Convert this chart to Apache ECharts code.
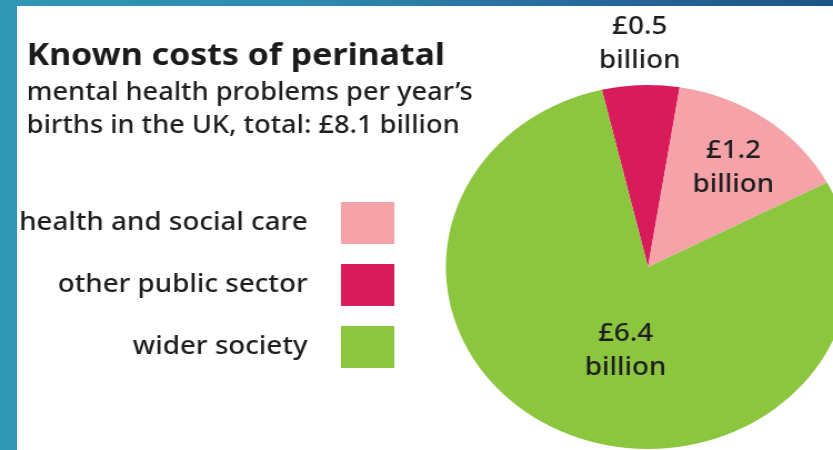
<!DOCTYPE html>
<html><head><meta charset="utf-8">
<script src="https://cdn.jsdelivr.net/npm/echarts@6/dist/echarts.min.js"></script>
<style>
html,body{margin:0;padding:0;width:833px;height:450px;overflow:hidden;}
body{position:relative;background:linear-gradient(90deg,#3097b4 0%,#2d8bb0 35%,#27689c 70%,#1d5486 100%);}
#panel{position:absolute;left:17px;top:6px;right:0;bottom:0;background:#ffffff;}
#main{position:absolute;left:0;top:0;width:750px;height:450px;transform:scaleX(1.1107);transform-origin:0 0;}
</style></head><body>
<div id="panel"></div><div id="main"></div>
<script>
// ---- data ----
const categories = ['other public sector', 'health and social care', 'wider society'];
const values = [0.5, 1.2, 6.4];
const legendOrder = ['health and social care', 'other public sector', 'wider society'];
const titleText = 'Known costs of perinatal';
const subtitleLines = ['mental health problems per year’s', 'births in the UK, total: £8.1 billion'];
const valuePrefix = '£';
const valueSuffix = 'billion';

// ---- styles ----
const sliceColors = {
  'other public sector': '#d81b5a',
  'health and social care': '#f5a3a9',
  'wider society': '#8cc63f'
};
const labelShift = [[-4, -129], [22, -23], [19, -2]];
const FONT = '"Noto Sans", sans-serif';
const TEXT = '#1e1e1e';

const chart = echarts.init(document.getElementById('main'), null, {renderer: 'canvas'});
chart.setOption({
  animation: false,
  backgroundColor: 'transparent',
  title: {
    text: titleText,
    subtext: subtitleLines.join('\n'),
    left: 19,
    top: 36,
    itemGap: 5,
    textStyle: {fontFamily: FONT, fontSize: 30.5, fontWeight: 'bold', color: '#1c1a1b'},
    subtextStyle: {fontFamily: FONT, fontSize: 24.5, lineHeight: 33, fontWeight: 500, color: TEXT}
  },
  legend: {
    orient: 'vertical',
    align: 'right',
    right: 390,
    top: 197,
    itemWidth: 48,
    itemHeight: 42,
    itemGap: 20,
    icon: 'rect',
    selectedMode: false,
    data: legendOrder,
    textStyle: {fontFamily: FONT, fontSize: 25, fontWeight: 500, color: TEXT, padding: [8, 25, 0, 0]}
  },
  series: [{
    type: 'pie',
    center: [583.4, 267],
    radius: 182,
    startAngle: 103.2,
    clockwise: true,
    silent: true,
    emphasis: {disabled: true},
    labelLine: {show: false},
    label: {
      show: true,
      position: 'inside',
      fontFamily: FONT,
      fontSize: 25,
      fontWeight: 500,
      lineHeight: 34,
      color: TEXT,
      formatter: p => valuePrefix + p.value + '\n' + valueSuffix
    },
    labelLayout: p => ({dx: labelShift[p.dataIndex][0], dy: labelShift[p.dataIndex][1]}),
    data: categories.map((c, i) => ({name: c, value: values[i], itemStyle: {color: sliceColors[c]}}))
  }]
});
</script>
</body></html>
